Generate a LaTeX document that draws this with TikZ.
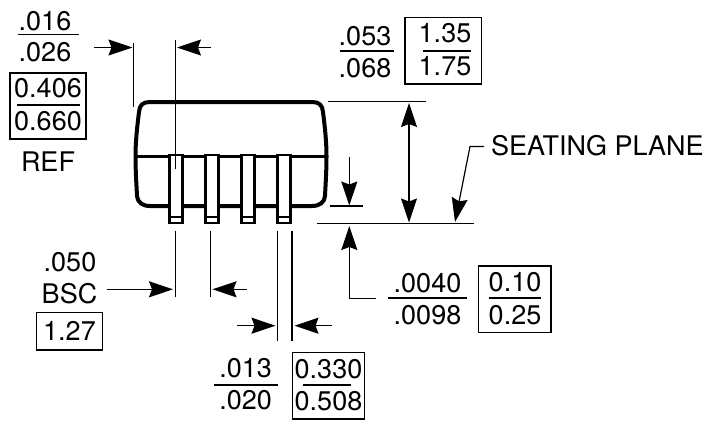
\documentclass[tikz,border=0pt]{standalone}
\usepackage{fontspec}
\setmainfont{TeX Gyre Heros}
\usepackage{xcolor}
\usepackage{tikz}
\usetikzlibrary{arrows.meta}

\tikzset{
    dimtext/.style={anchor=base,inner sep=0pt,font=\fontsize{27}{32}\selectfont},
    dimline/.style={black,line width=1.2pt},
    dimbox/.style={black,line width=1.2pt},
    dimtip/.tip={Stealth[length=24pt,width=16pt,inset=3pt]},
    dimarrow/.style={black,line width=1.2pt,-dimtip},
    bodyline/.style={black,line width=4pt,line join=round,line cap=round},
    leadpin/.style={black,line width=2.6pt,fill=white}
}

\begin{document}
\begin{tikzpicture}[x=1pt,y=-1pt]
        \useasboundingbox (0,0) rectangle (708,426);
        % Package body
        \draw[bodyline] (150,102) -- (312,102)
            .. controls (319,102) and (322.5,105) .. (323,112)
            .. controls (325,128) and (326.5,142) .. (326.5,156)
            .. controls (326.5,172) and (325.5,185) .. (325,196)
            .. controls (324.5,202) and (320,206) .. (312,206)
            -- (150,206)
            .. controls (142,206) and (137.5,202) .. (137,196)
            .. controls (136.5,185) and (135.5,172) .. (135.5,156)
            .. controls (135.5,142) and (137,128) .. (139,112)
            .. controls (139.5,105) and (143,102) .. (150,102) -- cycle;
        \draw[black,line width=3pt] (135.5,156) -- (326.5,156);

        % Leads
        \filldraw[leadpin] (169.5,155) rectangle (182.5,223);
        \draw[leadpin] (169.5,217) -- (182.5,217);
        \filldraw[leadpin] (205.5,155) rectangle (218.5,223);
        \draw[leadpin] (205.5,217) -- (218.5,217);
        \filldraw[leadpin] (241.5,155) rectangle (254.5,223);
        \draw[leadpin] (241.5,217) -- (254.5,217);
        \filldraw[leadpin] (277.5,155) rectangle (290.5,223);
        \draw[leadpin] (277.5,217) -- (290.5,217);

        % Lead width, upper left
        \node[dimtext] (wupper) at (45,30) {.016};
        \draw[dimline] (17.5,34.5) -- (79,34.5);
        \node[dimtext] (wlower) at (45,61.5) {.026};
        \draw[dimbox] (10,73) rectangle (86,139);
        \node[dimtext] (wupperm) at (48,97) {0.406};
        \draw[dimline] (17,105) -- (80,105);
        \node[dimtext] (wlowerm) at (48,130) {0.660};
        \node[dimtext] (wref) at (48,171) {REF};
        \draw[dimline] (133.7,43) -- (133.7,107);
        \draw[dimline] (175.7,40) -- (175.7,169);
        \draw[dimarrow] (94,47.5) -- (132.5,47.5);
        \draw[dimarrow] (211,47.5) -- (177,47.5);

        % Height, upper right
        \node[dimtext] (hupper) at (365,45) {.053};
        \draw[dimline] (339.5,51) -- (394,51);
        \node[dimtext] (hlower) at (365,77.5) {.068};
        \draw[dimbox] (405,17.5) rectangle (481.3,84);
        \node[dimtext] (hupperm) at (445,42.5) {1.35};
        \draw[dimline] (423,51) -- (471,51);
        \node[dimtext] (hlowerm) at (445,75) {1.75};
        \draw[dimline] (328,101.7) -- (426,101.7);
        \draw[dimline] (317,223.7) -- (474,223.7); %seating line
        \draw[dimline,dimtip-dimtip] (409,103) -- (409,222.5);

        % Seating plane
        \node[dimtext,anchor=base west] (seating) at (491,155) {SEATING PLANE};
        \draw[dimarrow] (484,146.5) -- (470,146.5) -- (455,222);

        % Standoff
        \draw[dimline] (330,206) -- (363,206);
        \draw[dimarrow] (349.3,157) -- (349.3,205.5);
        \draw[dimarrow] (376,298.7) -- (349.3,298.7) -- (349.3,226);
        \node[dimtext] (supper) at (427.5,292.5) {.0040};
        \draw[dimline] (387.7,298) -- (466.7,298);
        \node[dimtext] (slower) at (427.5,324.3) {.0098};
        \draw[dimbox] (478.3,266) rectangle (551,332.7);
        \node[dimtext] (supperm) at (515,291.7) {0.10};
        \draw[dimline] (489,298) -- (541,298);
        \node[dimtext] (slowerm) at (515,324) {0.25};

        % Pitch
        \node[dimtext] (pitch) at (70,271.7) {.050};
        \node[dimtext] (pbsc) at (69.5,303.3) {BSC};
        \draw[dimbox] (36.7,312.7) rectangle (102.3,350);
        \node[dimtext] (pitchm) at (69.5,340) {1.27};
        \draw[dimline] (175.7,230.7) -- (175.7,296.7);
        \draw[dimline] (210.7,230.7) -- (210.7,296.7);
        \draw[dimarrow] (107.3,289.3) -- (173,289.3);
        \draw[dimarrow] (246.7,289.3) -- (212.5,289.3);

        % Lead width, bottom
        \draw[dimline] (277.7,230.7) -- (277.7,340.7);
        \draw[dimline] (292,230.7) -- (292,340.7);
        \draw[dimarrow] (237.3,325.7) -- (275.5,325.7);
        \draw[dimarrow] (332.3,325.7) -- (294.5,325.7);
        \node[dimtext] (bupper) at (245.7,377.7) {.013};
        \draw[dimline] (214.3,385) -- (277.7,385);
        \node[dimtext] (blower) at (245.7,409.3) {.020};
        \draw[dimbox] (292.7,352.7) rectangle (364.3,419);
        \node[dimtext] (bupperm) at (328.5,378) {0.330};
        \draw[dimline] (303.3,385) -- (350.7,385);
        \node[dimtext] (blowerm) at (328.5,410.7) {0.508};
\end{tikzpicture}
\end{document}
